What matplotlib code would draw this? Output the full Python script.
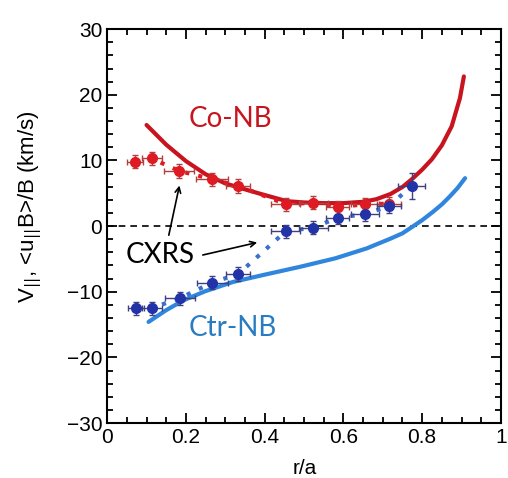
import numpy as np
import matplotlib
matplotlib.use("Agg")
import matplotlib.pyplot as plt
from matplotlib.ticker import MultipleLocator

plt.rcParams['font.family'] = ['Liberation Sans', 'DejaVu Sans']

# ---- données ----
# CXRS, faisceau co (rouge)
r_co = [0.071, 0.113, 0.183, 0.266, 0.333, 0.454, 0.524, 0.585, 0.655, 0.716]
v_co = [9.8, 10.3, 8.4, 7.15, 6.1, 3.35, 3.55, 2.85, 3.35, 3.4]
xerr_co = [0.02, 0.025, 0.038, 0.04, 0.03, 0.037, 0.037, 0.03, 0.035, 0.03]
yerr_co = [1.0, 1.0, 1.0, 1.0, 1.0, 1.0, 1.0, 1.0, 1.0, 1.0]

# CXRS, faisceau contre (bleu)
r_ctr = [0.073, 0.113, 0.184, 0.267, 0.333, 0.454, 0.524, 0.585, 0.655, 0.716, 0.773]
v_ctr = [-12.5, -12.5, -11.0, -8.6, -7.3, -0.76, -0.25, 1.27, 1.83, 3.04, 6.1]
xerr_ctr = [0.02, 0.025, 0.038, 0.04, 0.03, 0.037, 0.037, 0.03, 0.035, 0.03, 0.035]
yerr_ctr = [1.0, 1.0, 1.0, 1.0, 1.0, 1.0, 1.0, 1.0, 1.0, 1.0, 2.0]

# courbes calculées <u|| B>/B
r_conb = [0.10, 0.15, 0.20, 0.25, 0.30, 0.35, 0.39, 0.456, 0.50, 0.55, 0.60,
          0.65, 0.684, 0.72, 0.751, 0.775, 0.80, 0.825, 0.85, 0.875, 0.896, 0.906]
v_conb = [15.4, 12.4, 9.9, 7.9, 6.5, 5.6, 4.9, 3.8, 3.6, 3.5, 3.5,
          3.7, 4.1, 4.9, 6.0, 7.2, 8.6, 10.2, 12.3, 15.2, 19.5, 22.8]
r_ctrnb = [0.105, 0.15, 0.194, 0.25, 0.32, 0.40, 0.49, 0.58, 0.659, 0.72,
           0.75, 0.769, 0.80, 0.828, 0.85, 0.87, 0.89, 0.909]
v_ctrnb = [-14.6, -12.8, -11.3, -9.9, -8.5, -7.4, -6.2, -4.9, -3.4, -1.9,
           -1.1, -0.35, 0.9, 2.2, 3.3, 4.5, 5.8, 7.3]

rouge_fonce = '#c8141e'
rouge = '#de1a22'
bleu_fonce = '#2233a8'
bleu_pointille = '#3a6fd0'
bleu_clair = '#2f86dc'
bleu_texte = '#2a7cc0'

fig = plt.figure(figsize=(5.08, 4.78), dpi=100)
ax = fig.add_axes([0.211, 0.115, 0.775, 0.824])

ax.axhline(0, color='black', linestyle=(0, (4, 3)), linewidth=1.2)

ax.plot(r_conb, v_conb, color=rouge_fonce, linewidth=3, solid_capstyle='round',
        solid_joinstyle='round')
ax.plot(r_ctrnb, v_ctrnb, color=bleu_clair, linewidth=3, solid_capstyle='round',
        solid_joinstyle='round')

ax.plot(r_co, v_co, color=rouge, linestyle=(0, (1, 2.2)), linewidth=3)
ax.plot(r_ctr, v_ctr, color=bleu_pointille, linestyle=(0, (1, 2.2)), linewidth=3)

ax.errorbar(r_co, v_co, xerr=xerr_co, yerr=yerr_co, fmt='o', color=rouge,
            ms=7, ecolor='#b04040', elinewidth=1, capsize=2)
ax.errorbar(r_ctr, v_ctr, xerr=xerr_ctr, yerr=yerr_ctr, fmt='o', color=bleu_fonce,
            ms=7, ecolor='#404080', elinewidth=1, capsize=2)

ax.text(0.312, 16.3, 'Co-NB', color=rouge_fonce, fontsize=20, family='Lato',
        ha='center', va='center')
ax.text(0.32, -15.5, 'Ctr-NB', color=bleu_texte, fontsize=20, family='Lato',
        ha='center', va='center')
ax.text(0.135, -4.4, 'CXRS', color='black', fontsize=20, family='Lato',
        ha='center', va='center')

ax.annotate('', xy=(0.185, 6.6), xytext=(0.155, -1.8),
            arrowprops=dict(arrowstyle='->', color='black', lw=1.2))
ax.annotate('', xy=(0.388, -2.4), xytext=(0.236, -4.5),
            arrowprops=dict(arrowstyle='->', color='black', lw=1.2))

ax.set_xlim(0, 1)
ax.set_ylim(-30, 30)
ax.yaxis.set_major_locator(MultipleLocator(10))
ax.yaxis.set_minor_locator(MultipleLocator(2))
ax.xaxis.set_minor_locator(MultipleLocator(0.05))
ax.set_xticks([0, 0.2, 0.4, 0.6, 0.8, 1])
ax.set_xticklabels(['0', '0.2', '0.4', '0.6', '0.8', '1'])
ax.tick_params(which='both', direction='in', top=True, right=True, width=1.3)
ax.tick_params(which='major', length=7, labelsize=15)
ax.tick_params(which='minor', length=4)
for s in ax.spines.values():
    s.set_linewidth(1.5)

ax.set_xlabel('r/a', fontsize=15)
ax.xaxis.set_label_coords(0.503, -0.092)
ax.set_ylabel(r'V$_{||}$, <u$_{||}$B>/B (km/s)', fontsize=16)
ax.yaxis.set_label_coords(-0.16, 0.548)

fig.savefig('out.png', dpi=100)
